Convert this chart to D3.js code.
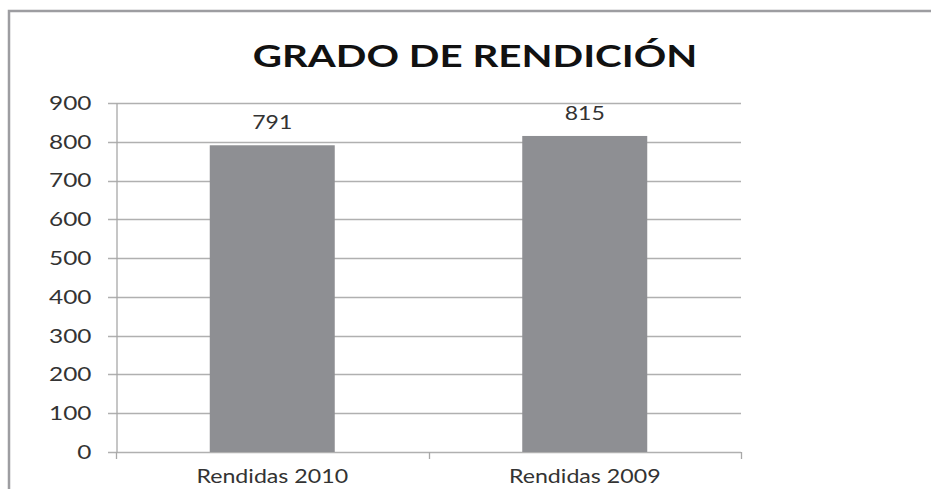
<!DOCTYPE html>
<html>
<head>
<meta charset="utf-8">
<script src="https://cdn.jsdelivr.net/npm/d3@7"></script>
<style>
  body { margin: 0; background: #fff; }
  svg { display: block; }
</style>
</head>
<body>
<svg id="chart" width="931" height="489"></svg>
<script>
var categories = ['Rendidas 2010', 'Rendidas 2009'];
var values = [791, 815];
var yTicks = [0, 100, 200, 300, 400, 500, 600, 700, 800, 900];
var title = 'GRADO DE RENDICIÓN';

var svg = d3.select('#chart');
var width = 931;
var height = 489;
var margin_left = 116;
var plot_right = 741;
var plot_top = 103;
var plot_bottom = 452;
var font = "Lato, 'Open Sans', sans-serif";

// the source picture is stretched sideways, so text is too
var stretch_text = function(sel, sx) {
    sel.each(function() {
        var t = d3.select(this);
        var x0 = +t.attr('x') || 0;
        t.attr('x', x0 / sx).attr('transform', 'scale(' + sx + ',1)');
    });
};

// chart area frame (cropped on right/bottom)
svg.append('path')
    .attr('d', 'M9,' + height + ' V11 H' + width)
    .attr('stroke', '#9d9da1')
    .attr('stroke-width', 2.5)
    .attr('fill', 'none');

svg.append('g').attr('transform', 'translate(475,67)')
  .append('text')
    .attr('text-anchor', 'middle')
    .attr('font-family', font)
    .attr('font-weight', 'bold')
    .attr('font-size', 31)
    .attr('fill', '#111')
    .attr('transform', 'scale(1.3,1)')
    .text(title);

var x = d3.scaleBand().domain(categories).range([margin_left, plot_right]).paddingInner(0.6).paddingOuter(0.3);
var y = d3.scaleLinear().domain([0, 900]).range([plot_bottom, plot_top]);

// gridlines
svg.append('g').selectAll('line').data(yTicks).enter().append('line')
    .attr('x1', margin_left - 8)
    .attr('x2', plot_right)
    .attr('y1', function(d) { return Math.round(y(d)) + 0.5; })
    .attr('y2', function(d) { return Math.round(y(d)) + 0.5; })
    .attr('stroke', '#b0b0b0')
    .attr('stroke-width', 1.3);

svg.append('g').selectAll('rect').data(values).enter().append('rect')
    .attr('x', function(d, i) { return x(categories[i]); })
    .attr('width', x.bandwidth())
    .attr('y', function(d) { return y(d); })
    .attr('height', function(d) { return plot_bottom - y(d); })
    .attr('fill', '#8e8f93');

svg.append('g').selectAll('g').data(values).enter().append('g')
    .attr('transform', function(d, i) { return 'translate(' + (x(categories[i]) + x.bandwidth() / 2) + ',' + (y(d) - 16) + ')'; })
  .append('text')
    .attr('text-anchor', 'middle')
    .attr('font-family', font)
    .attr('font-size', 20)
    .attr('fill', '#333')
    .attr('transform', 'scale(1.15,1)')
    .text(function(d) { return d; });

// y axis
var yAxis = d3.axisLeft(y).tickValues(yTicks).tickSize(0).tickPadding(25);
svg.append('g').attr('transform', 'translate(' + (margin_left + 0.5) + ',0)').call(yAxis)
    .call(function(g) {
        g.select('.domain').attr('stroke', '#a8a8a8').attr('stroke-width', 1.3);
        g.selectAll('text').attr('font-family', font).attr('font-size', 20).attr('fill', '#333')
            .call(stretch_text, 1.22);
    });

// x axis with ticks at category boundaries
var xAxis = d3.axisBottom(x).tickSize(0).tickPadding(0);
svg.append('g').attr('transform', 'translate(0,' + (plot_bottom + 0.5) + ')').call(xAxis)
    .call(function(g) {
        g.select('.domain').remove();
        g.selectAll('text').attr('dy', null).attr('y', 31)
            .attr('font-family', font).attr('font-size', 19).attr('fill', '#333')
            .call(stretch_text, 1.22);
    });
var bounds = [margin_left, (margin_left + plot_right) / 2, plot_right];
svg.append('g').selectAll('line').data(bounds).enter().append('line')
    .attr('x1', function(d) { return Math.round(d) + 0.5; })
    .attr('x2', function(d) { return Math.round(d) + 0.5; })
    .attr('y1', plot_bottom)
    .attr('y2', plot_bottom + 7)
    .attr('stroke', '#a8a8a8')
    .attr('stroke-width', 1.3);
</script>
</body>
</html>
